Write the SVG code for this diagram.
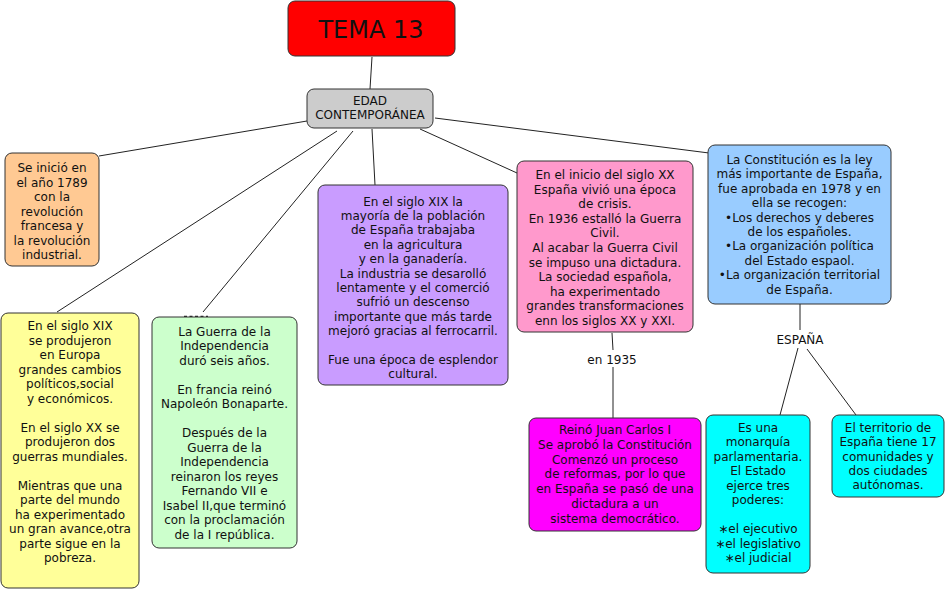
<svg xmlns="http://www.w3.org/2000/svg" width="947" height="591" viewBox="0 0 947 591">
<style>
  .box{stroke:#333;stroke-width:1}
  .t{font-family:"DejaVu Sans","Verdana",sans-serif;font-size:12px;fill:#111;text-anchor:middle}
  .c{stroke:#222;stroke-width:1;fill:none}
</style>
<rect width="947" height="591" fill="#fff"/>
<g id="connectors">
  <line class="c" x1="372" y1="57" x2="370" y2="89"/>
  <line class="c" x1="307" y1="121" x2="99" y2="156"/>
  <line class="c" x1="337" y1="131" x2="57" y2="312"/>
  <line class="c" x1="353" y1="131" x2="203" y2="312"/>
  <line class="c" x1="372" y1="129" x2="375" y2="185"/>
  <line class="c" x1="420" y1="129" x2="517" y2="173"/>
  <line class="c" x1="435" y1="118" x2="709" y2="153"/>
  <line class="c" x1="612" y1="333" x2="613" y2="350"/>
  <line class="c" x1="613" y1="367" x2="613" y2="418"/>
  <line class="c" x1="800" y1="304" x2="800" y2="330"/>
  <line class="c" x1="798" y1="348" x2="780" y2="415"/>
  <line class="c" x1="807" y1="349" x2="856" y2="415"/>
  <line x1="184" y1="316.5" x2="208" y2="316.5" stroke="#222" stroke-width="1.5" stroke-dasharray="3 2.5"/>
  <text class="t" x="612" y="363.5">en 1935</text>
  <text class="t" x="800" y="344">ESPAÑA</text>
</g>
<g id="tema">
  <rect class="box" x="288" y="1" width="167" height="55" rx="7" fill="#ff0000"/>
  <text class="t" x="371" y="37.5" style="font-size:24px">TEMA 13</text>
</g>
<g id="edad">
  <rect class="box" x="307" y="89" width="126" height="39" rx="7" fill="#cccccc"/>
  <text class="t" x="370" y="104.5">EDAD<tspan x="370" dy="14.5">CONTEMPORÁNEA</tspan></text>
</g>
<g id="inicio">
  <rect class="box" x="5" y="153" width="94" height="113" rx="7" fill="#ffc993"/>
  <text class="t" x="52" y="172">Se inició en<tspan x="52" dy="14.5">el año 1789</tspan><tspan x="52" dy="14.5">con la</tspan><tspan x="52" dy="14.5">revolución</tspan><tspan x="52" dy="14.5">francesa y</tspan><tspan x="52" dy="14.5">la revolución</tspan><tspan x="52" dy="14.5">industrial.</tspan></text>
</g>
<g id="siglos">
  <rect class="box" x="1" y="313" width="138" height="275" rx="7" fill="#ffff99"/>
  <text class="t" x="70" y="330">En el siglo XIX<tspan x="70" dy="14.5">se produjeron</tspan><tspan x="70" dy="14.5">en Europa</tspan><tspan x="70" dy="14.5">grandes cambios</tspan><tspan x="70" dy="14.5">políticos,social</tspan><tspan x="70" dy="14.5">y económicos.</tspan><tspan x="70" dy="29">En el siglo XX se</tspan><tspan x="70" dy="14.5">produjeron dos</tspan><tspan x="70" dy="14.5">guerras mundiales.</tspan><tspan x="70" dy="29">Mientras que una</tspan><tspan x="70" dy="14.5">parte del mundo</tspan><tspan x="70" dy="14.5">ha experimentado</tspan><tspan x="70" dy="14.5">un gran avance,otra</tspan><tspan x="70" dy="14.5">parte sigue en la</tspan><tspan x="70" dy="14.5">pobreza.</tspan></text>
</g>
<g id="guerra">
  <rect class="box" x="152" y="317" width="145" height="231" rx="7" fill="#ccffcc"/>
  <text class="t" x="224.5" y="335.5">La Guerra de la<tspan x="224.5" dy="14.5">Independencia</tspan><tspan x="224.5" dy="14.5">duró seis años.</tspan><tspan x="224.5" dy="29">En francia reinó</tspan><tspan x="224.5" dy="14.5">Napoleón Bonaparte.</tspan><tspan x="224.5" dy="29">Después de la</tspan><tspan x="224.5" dy="14.5">Guerra de la</tspan><tspan x="224.5" dy="14.5">Independencia</tspan><tspan x="224.5" dy="14.5">reinaron los reyes</tspan><tspan x="224.5" dy="14.5">Fernando VII e</tspan><tspan x="224.5" dy="14.5">Isabel II,que terminó</tspan><tspan x="224.5" dy="14.5">con la proclamación</tspan><tspan x="224.5" dy="14.5">de la I república.</tspan></text>
</g>
<g id="espana19">
  <rect class="box" x="318" y="185" width="190" height="200" rx="7" fill="#c99cff"/>
  <text class="t" x="413" y="205.5">En el siglo XIX la<tspan x="413" dy="14.4">mayoría de la población</tspan><tspan x="413" dy="14.4">de España trabajaba</tspan><tspan x="413" dy="14.4">en la agricultura</tspan><tspan x="413" dy="14.4">y en la ganadería.</tspan><tspan x="413" dy="14.4">La industria se desarolló</tspan><tspan x="413" dy="14.4">lentamente y el comerció</tspan><tspan x="413" dy="14.4">sufrió un descenso</tspan><tspan x="413" dy="14.4">importante que más tarde</tspan><tspan x="413" dy="14.4">mejoró gracias al ferrocarril.</tspan><tspan x="413" dy="28.8">Fue una época de esplendor</tspan><tspan x="413" dy="14.4">cultural.</tspan></text>
</g>
<g id="siglo20">
  <rect class="box" x="517" y="161" width="176" height="171" rx="7" fill="#ff99cc"/>
  <text class="t" x="605" y="179">En el inicio del siglo XX<tspan x="605" dy="14.6">España vivió una época</tspan><tspan x="605" dy="14.6">de crisis.</tspan><tspan x="605" dy="14.6">En 1936 estalló la Guerra</tspan><tspan x="605" dy="14.6">Civil.</tspan><tspan x="605" dy="14.6">Al acabar la Guerra Civil</tspan><tspan x="605" dy="14.6">se impuso una dictadura.</tspan><tspan x="605" dy="14.6">La sociedad española,</tspan><tspan x="605" dy="14.6">ha experimentado</tspan><tspan x="605" dy="14.6">grandes transformaciones</tspan><tspan x="605" dy="14.6">enn los siglos XX y XXI.</tspan></text>
</g>
<g id="constitucion">
  <rect class="box" x="708" y="145" width="183" height="159" rx="7" fill="#99ccff"/>
  <text class="t" x="799.5" y="164">La Constitución es la ley<tspan x="799.5" dy="14.4">más importante de España,</tspan><tspan x="799.5" dy="14.4">fue aprobada en 1978 y en</tspan><tspan x="799.5" dy="14.4">ella se recogen:</tspan><tspan x="799.5" dy="14.4">•Los derechos y deberes</tspan><tspan x="799.5" dy="14.4">de los españoles.</tspan><tspan x="799.5" dy="14.4">•La organización política</tspan><tspan x="799.5" dy="14.4">del Estado espaol.</tspan><tspan x="799.5" dy="14.4">•La organización territorial</tspan><tspan x="799.5" dy="14.4">de España.</tspan></text>
</g>
<g id="juancarlos">
  <rect class="box" x="529" y="418" width="172" height="113" rx="7" fill="#ff00ff"/>
  <text class="t" x="615" y="434">Reinó Juan Carlos I<tspan x="615" dy="14.8">Se aprobó la Constitución</tspan><tspan x="615" dy="14.8">Comenzó un proceso</tspan><tspan x="615" dy="14.8">de reformas, por lo que</tspan><tspan x="615" dy="14.8">en España se pasó de una</tspan><tspan x="615" dy="14.8">dictadura a un</tspan><tspan x="615" dy="14.8">sistema democrático.</tspan></text>
</g>
<g id="monarquia">
  <rect class="box" x="706" y="415" width="104" height="158" rx="7" fill="#00ffff"/>
  <text class="t" x="758" y="431.7">Es una<tspan x="758" dy="14.5">monarquía</tspan><tspan x="758" dy="14.5">parlamentaria.</tspan><tspan x="758" dy="14.5">El Estado</tspan><tspan x="758" dy="14.5">ejerce tres</tspan><tspan x="758" dy="14.5">poderes:</tspan><tspan x="758" dy="29">∗el ejecutivo</tspan><tspan x="758" dy="14.5">∗el legislativo</tspan><tspan x="758" dy="14.5">∗el judicial</tspan></text>
</g>
<g id="territorio">
  <rect class="box" x="832" y="415" width="112" height="82" rx="7" fill="#00ffff"/>
  <text class="t" x="888" y="431.7">El territorio de<tspan x="888" dy="14.4">España tiene 17</tspan><tspan x="888" dy="14.4">comunidades y</tspan><tspan x="888" dy="14.4">dos ciudades</tspan><tspan x="888" dy="14.4">autónomas.</tspan></text>
</g>
</svg>
